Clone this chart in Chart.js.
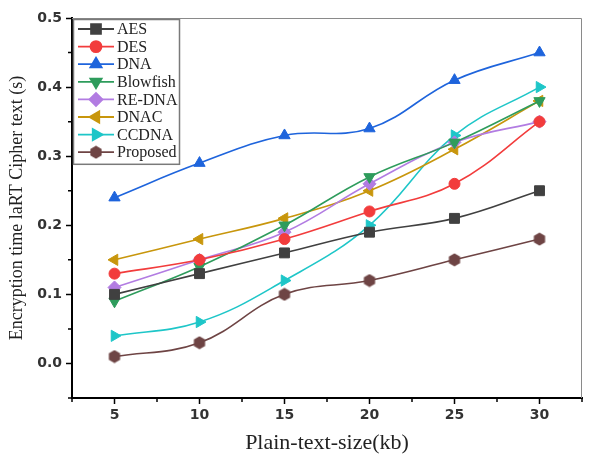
<!DOCTYPE html>
<html>
<head>
<meta charset="utf-8">
<script src="https://cdn.jsdelivr.net/npm/chart.js@4/dist/chart.umd.min.js"></script>
<style>
  html, body { margin: 0; padding: 0; background: #fff; }
  #wrap { width: 590px; height: 460px; position: relative; }
</style>
</head>
<body>
<div id="wrap"><canvas id="chart"></canvas></div>
<script>
// values
var sizes = [5, 10, 15, 20, 25, 30];
var aes      = [0.10, 0.13, 0.16, 0.19, 0.21, 0.25];
var des      = [0.13, 0.15, 0.18, 0.22, 0.26, 0.35];
var dna      = [0.24, 0.29, 0.33, 0.34, 0.41, 0.45];
var blowfish = [0.09, 0.14, 0.20, 0.27, 0.32, 0.38];
var reDna    = [0.11, 0.15, 0.19, 0.26, 0.32, 0.35];
var dnac     = [0.15, 0.18, 0.21, 0.25, 0.31, 0.38];
var ccdna    = [0.04, 0.06, 0.12, 0.20, 0.33, 0.40];
var proposed = [0.01, 0.03, 0.10, 0.12, 0.15, 0.18];

var xTicks = [5, 10, 15, 20, 25, 30];
var xMinor = [2.5, 7.5, 12.5, 17.5, 22.5, 27.5, 32.5];
var yTicks = [0, 0.1, 0.2, 0.3, 0.4, 0.5];
var yMinor = [-0.05, 0.05, 0.15, 0.25, 0.35, 0.45];

var tickFont = { family: "'DejaVu Sans', sans-serif", size: 14, weight: "bold" };
var serif = "'Liberation Serif', 'DejaVu Serif', serif";

function hexagon(color, size) {
  const c = document.createElement("canvas");
  c.width = size; c.height = size;
  const g = c.getContext("2d");
  const r = size / 2;
  g.fillStyle = color;
  g.beginPath();
  for (let i = 0; i < 6; i++) {
    const a = Math.PI / 6 + i * Math.PI / 3;
    const px = r + (r - 0.5) * Math.cos(a), py = r + (r - 0.5) * Math.sin(a);
    if (i === 0) g.moveTo(px, py); else g.lineTo(px, py);
  }
  g.closePath();
  g.fill();
  return c;
}

function series(label, values, color, style, radius, rotation=0) {
  return {
    label: label,
    data: sizes.map((x, i) => ({ x: x, y: values[i] })),
    borderColor: color,
    backgroundColor: color,
    pointBackgroundColor: color,
    pointBorderColor: color,
    pointStyle: style,
    rotation: rotation,
    pointRadius: radius,
    pointBorderWidth: 1,
    borderWidth: 1.6,
    tension: 0.4,
    fill: false,
  };
}

var datasets = [
  series("AES", aes, "#404040", "rect", 7),
  series("DES", des, "#f23c3c", "circle", 5.5),
  series("DNA", dna, "#1e64dc", "triangle", 6.5),
  series("Blowfish", blowfish, "#2e9c5c", "triangle", 6.5, 180),
  series("RE-DNA", reDna, "#b27ce2", "rectRot", 6.5),
  series("DNAC", dnac, "#c8960c", "triangle", 6.5, -90),
  series("CCDNA", ccdna, "#1ec6c8", "triangle", 6.5, 90),
  series("Proposed", proposed, "#6e4444", hexagon("#6e4444", 14), 7),
];

// frame on top/right and minor tick marks
const framePlugin = {
  id: "frame",
  afterDraw(chart) {
    const ctx = chart.ctx, a = chart.chartArea;
    const xs = chart.scales.x, ys = chart.scales.y;
    ctx.save();
    ctx.strokeStyle = "#8a8a8a";
    ctx.lineWidth = 1;
    ctx.beginPath();
    ctx.moveTo(a.left, a.top + 0.5);
    ctx.lineTo(a.right - 0.5, a.top + 0.5);
    ctx.lineTo(a.right - 0.5, a.bottom);
    ctx.stroke();
    ctx.strokeStyle = "#000";
    ctx.lineWidth = 1.5;
    ctx.beginPath();
    xMinor.forEach(v => {
      const px = xs.getPixelForValue(v);
      ctx.moveTo(px, a.bottom); ctx.lineTo(px, a.bottom + 4);
    });
    yMinor.forEach(v => {
      const py = ys.getPixelForValue(v);
      ctx.moveTo(a.left, py); ctx.lineTo(a.left - 4, py);
    });
    ctx.stroke();
    ctx.restore();
  }
};

// legend box in the upper left corner of the plot
const legendPlugin = {
  id: "boxLegend",
  afterDraw(chart) {
    const ctx = chart.ctx, a = chart.chartArea;
    const left = a.left + 1, top = a.top + 1;
    const w = 106, rowH = 17.6, h = rowH * datasets.length + 4;
    ctx.save();
    ctx.fillStyle = "#fff";
    ctx.fillRect(left, top, w, h);
    ctx.strokeStyle = "#7a7a7a";
    ctx.lineWidth = 1.5;
    ctx.strokeRect(left + 0.5, top + 0.5, w, h);
    ctx.font = "16px " + serif;
    ctx.textBaseline = "middle";
    chart.data.datasets.forEach((d, i) => {
      const y = top + 10 + i * rowH;
      ctx.strokeStyle = d.borderColor;
      ctx.lineWidth = 1.8;
      ctx.beginPath();
      ctx.moveTo(left + 5, y); ctx.lineTo(left + 41, y);
      ctx.stroke();
      ctx.fillStyle = d.backgroundColor;
      ctx.strokeStyle = d.borderColor;
      if (Chart.helpers && Chart.helpers.drawPoint) {
        Chart.helpers.drawPoint(ctx, {
          pointStyle: d.pointStyle, rotation: d.rotation,
          radius: d.pointRadius, borderWidth: 1
        }, left + 23, y);
      }
      ctx.fillStyle = "#222";
      ctx.fillText(d.label, left + 44, y + 1);
    });
    ctx.restore();
  }
};

new Chart(document.getElementById("chart"), {
  type: "line",
  data: { datasets: datasets },
  options: {
    responsive: true,
    maintainAspectRatio: false,
    animation: false,
    layout: { padding: { top: 18, right: 7, left: 6, bottom: 4 } },
    plugins: {
      legend: { display: false },
      tooltip: { enabled: false },
    },
    scales: {
      x: {
        type: "linear",
        min: 2.5,
        max: 32.5,
        afterBuildTicks: s => { s.ticks = xTicks.map(v => ({ value: v })); },
        afterFit: s => { s.height = 460 - 398 - 4; },
        grid: { drawOnChartArea: false, tickLength: 6, color: "#000", tickWidth: 1.5 },
        border: { display: true, color: "#000", width: 2 },
        ticks: {
          padding: 3,
          color: "#333",
          font: tickFont,
          maxRotation: 0,
        },
        title: {
          display: true,
          text: "Plain-text-size(kb)",
          color: "#222",
          padding: { top: 1, bottom: 0 },
          font: { family: serif, size: 22 },
        },
      },
      y: {
        type: "linear",
        min: -0.05,
        max: 0.5,
        afterBuildTicks: s => { s.ticks = yTicks.map(v => ({ value: v })); },
        afterFit: s => { s.width = 72 - 6; },
        grid: { drawOnChartArea: false, tickLength: 6, color: "#000", tickWidth: 1.5 },
        border: { display: true, color: "#000", width: 2 },
        ticks: {
          padding: 4,
          color: "#333",
          font: tickFont,
          callback: v => v.toFixed(1),
        },
        title: {
          display: true,
          text: "Encryption time laRT Cipher text (s)",
          color: "#222",
          padding: { top: 0, bottom: 2 },
          font: { family: serif, size: 18 },
        },
      },
    },
  },
  plugins: [framePlugin, legendPlugin],
});
</script>
</body>
</html>
